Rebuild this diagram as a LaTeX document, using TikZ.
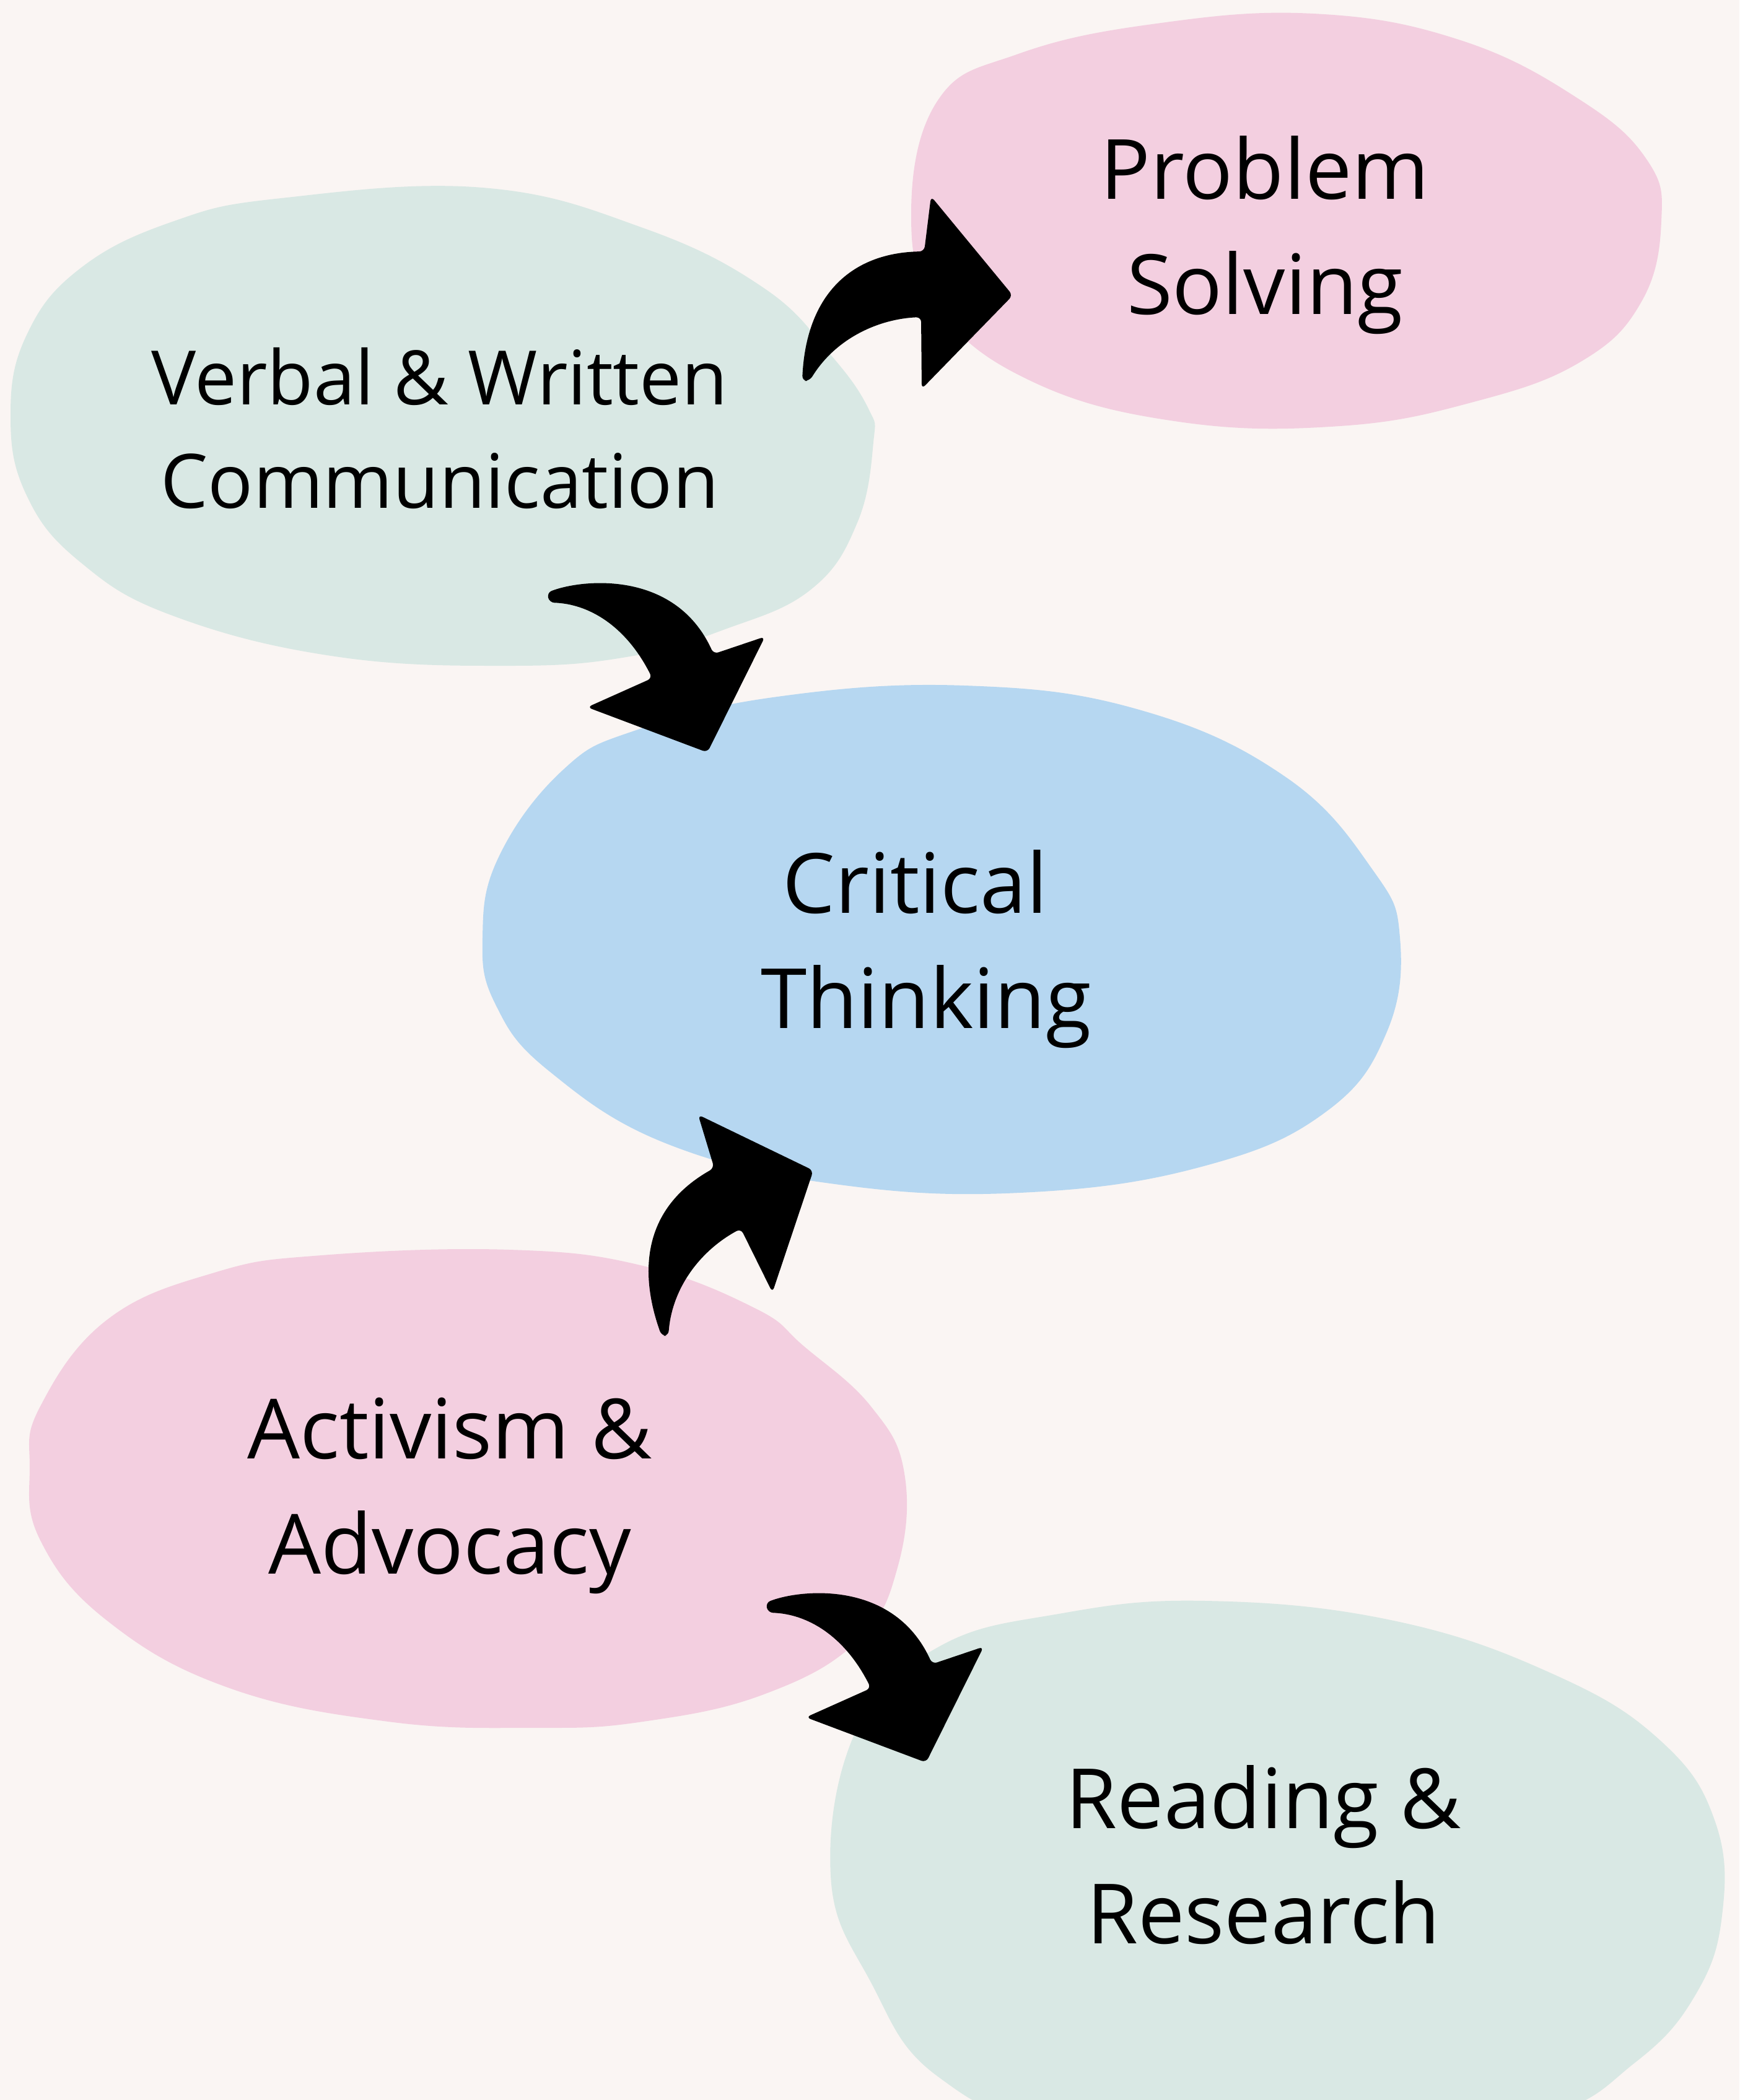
\documentclass[tikz,border=0pt]{standalone}
\usepackage{fontspec}
\setmainfont{Open Sans}
\usepackage{xcolor}

\definecolor{bgcream}{HTML}{FAF5F3}
\definecolor{sage}{HTML}{D9E8E4}
\definecolor{blush}{HTML}{F3CFE0}
\definecolor{sky}{HTML}{B6D7F1}

\begin{document}
\begin{tikzpicture}[
    x=1cm, y=-1cm,
    blobtext/.style={align=center, anchor=base, inner sep=0pt, text=black},
    bigtext/.style={font=\fontsize{38.2pt}{52.9pt}\selectfont},
    smalltext/.style={font=\fontsize{34.5pt}{47.5pt}\selectfont},
    bentarrow/.style={fill=black, rounded corners=0.8mm}
]
    % Canvas
    \useasboundingbox (0,0) rectangle (28.08,33.91);
    \fill[bgcream] (0,0) rectangle (28.08,33.91);
    \clip (0,0) rectangle (28.08,33.91);

    % Blobs
    \fill[sage] plot[smooth cycle, tension=0.7] coordinates {(4.54,3.20) (7.79,3.03) (10.38,3.68) (12.33,4.65) (13.41,5.73) (14.02,6.60) (14.10,7.14) (13.84,8.44) (13.09,9.52) (11.68,10.17) (10.17,10.60) (8.22,10.75) (5.41,10.60) (2.81,9.95) (1.30,9.08) (0.43,8.00) (0.17,6.71) (0.43,5.41) (1.30,4.33) (2.81,3.57)};
    \fill[blush] plot[smooth cycle, tension=0.7] coordinates {(14.71,3.46) (15.14,1.62) (16.44,0.87) (18.60,0.39) (21.20,0.22) (23.58,0.65) (25.52,1.62) (26.60,2.60) (26.82,3.57) (26.50,4.87) (25.52,5.84) (23.79,6.49) (21.63,6.88) (19.03,6.81) (16.66,6.16) (15.14,4.97)};
    \fill[sky] plot[smooth cycle, tension=0.7] coordinates {(7.79,15.14) (8.05,13.84) (9.08,12.44) (10.27,11.79) (12.55,11.25) (15.57,11.07) (18.39,11.46) (20.76,12.55) (22.17,14.06) (22.60,15.14) (22.39,16.66) (21.41,17.95) (19.47,18.82) (16.66,19.25) (13.63,19.14) (10.82,18.49) (8.87,17.30) (8.00,16.22)};
    \fill[blush] plot[smooth cycle, tension=0.7] coordinates {(0.48,23.69) (0.65,22.71) (1.73,21.31) (3.46,20.55) (5.19,20.27) (8.22,20.18) (10.38,20.44) (12.20,21.13) (12.98,21.74) (14.06,22.71) (14.60,23.79) (14.49,25.31) (13.84,26.50) (12.33,27.36) (10.38,27.80) (8.65,27.90) (6.27,27.80) (3.68,27.25) (1.73,26.17) (0.65,24.87)};
    \fill[sage] plot[smooth cycle, tension=0.7] coordinates {(13.41,30.28) (13.84,27.90) (15.14,26.60) (17.09,26.06) (19.47,25.85) (22.50,26.17) (25.09,27.04) (26.82,28.12) (27.69,29.42) (27.80,30.93) (27.36,32.23) (26.39,33.31) (24.87,34.18) (21.63,34.61) (17.30,34.39) (15.14,33.53) (14.06,32.01)};

    % Labels (anchored on the baseline of the last line)
    \node[blobtext, smalltext] (verbal) at (7.10,8.20) {Verbal \& Written\\Communication};
    \node[blobtext, bigtext] (problem) at (20.42,5.077) {Problem\\Solving};
    \node[blobtext, bigtext] (critical) at (14.95,16.60) {Critical\hspace*{.26em}\\Thinking};
    \node[blobtext, bigtext] (activism) at (7.26,25.41) {Activism \&\\Advocacy};
    \node[blobtext, bigtext] (reading) at (20.40,31.38) {Reading \&\\Research};

    % Arrows
    \fill[bentarrow] (12.95,6.15) .. controls (13.02,4.70) and (13.80,4.08) .. (14.92,4.06)
        -- (15.03,3.17) -- (16.35,4.77) -- (14.88,6.28) -- (14.87,5.12)
        .. controls (14.20,5.15) and (13.50,5.45) .. (13.07,6.15) -- cycle;
    \fill[bentarrow] (8.83,9.57) .. controls (9.40,9.35) and (10.90,9.20) .. (11.52,10.56)
        -- (12.35,10.28) -- (11.42,12.15) -- (9.48,11.42) -- (10.53,10.95)
        .. controls (10.10,10.10) and (9.50,9.75) .. (8.87,9.73) -- cycle;
    \fill[bentarrow] (10.68,21.57) .. controls (10.30,20.50) and (10.40,19.50) .. (11.53,18.86)
        -- (11.27,18.00) -- (13.13,18.90) -- (12.47,20.87) -- (11.96,19.84)
        .. controls (11.30,20.20) and (10.85,20.80) .. (10.79,21.57) -- cycle;
    \begin{scope}[shift={(3.53,16.31)}]
        \fill[bentarrow] (8.83,9.57) .. controls (9.40,9.35) and (10.90,9.20) .. (11.52,10.56)
            -- (12.35,10.28) -- (11.42,12.15) -- (9.48,11.42) -- (10.53,10.95)
            .. controls (10.10,10.10) and (9.50,9.75) .. (8.87,9.73) -- cycle;
    \end{scope}
\end{tikzpicture}
\end{document}
